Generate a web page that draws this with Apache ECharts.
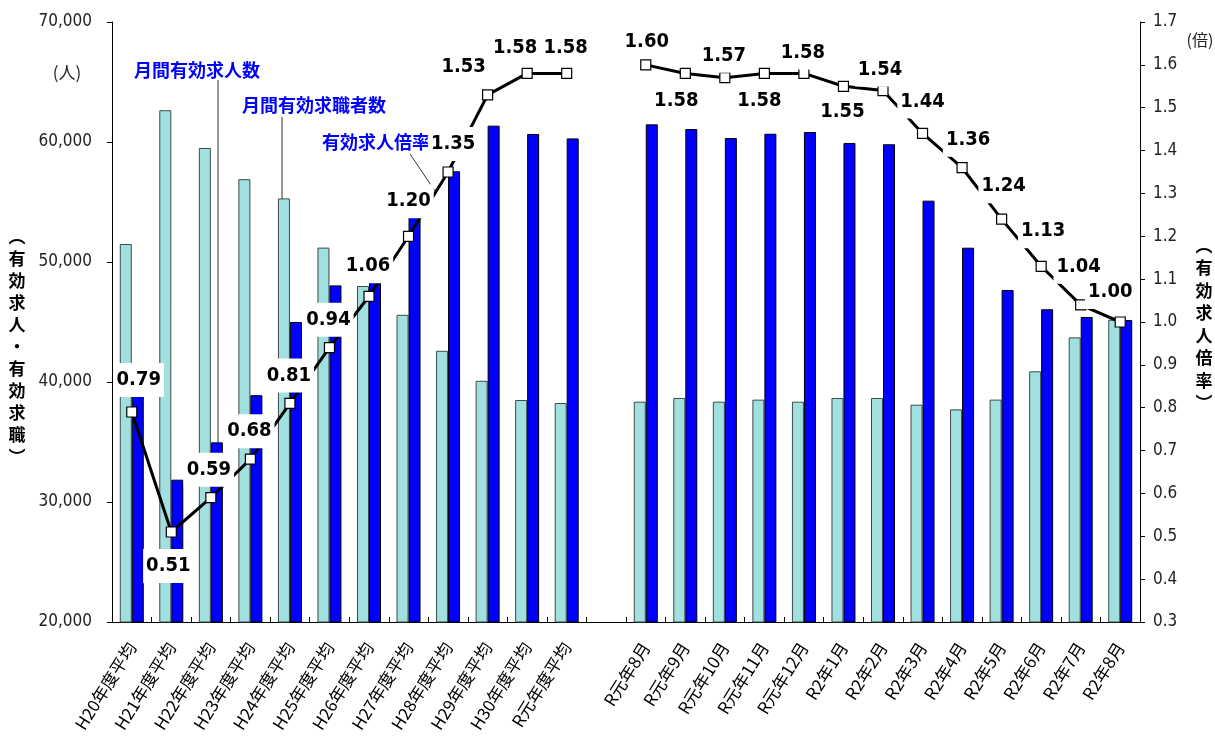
<!DOCTYPE html>
<html><head><meta charset="utf-8">
<script src="https://cdn.jsdelivr.net/npm/echarts@6/dist/echarts.min.js"></script>
<style>html,body{margin:0;padding:0;background:#fff}#c{width:1215px;height:744px}</style>
</head><body><div id="c"></div>
<script>
// ---- data ----
const categories = ['H20年度平均','H21年度平均','H22年度平均','H23年度平均','H24年度平均','H25年度平均',
  'H26年度平均','H27年度平均','H28年度平均','H29年度平均','H30年度平均','R元年度平均','',
  'R元年8月','R元年9月','R元年10月','R元年11月','R元年12月','R2年1月','R2年2月','R2年3月',
  'R2年4月','R2年5月','R2年6月','R2年7月','R2年8月'];
// 月間有効求職者数 (light teal bars)
const jobSeekers = [51500,62650,59500,56900,55300,51200,48000,45600,42600,40100,38500,38250,null,
  38360,38670,38360,38530,38360,38670,38670,38110,37720,38530,40890,43720,45190];
// 月間有効求人数 (blue bars)
const jobOffers = [40700,31860,34970,38900,45000,48050,50900,54700,57560,61360,60670,60300,null,
  61470,61080,60330,60690,60830,59920,59810,55110,51190,47670,46060,45420,45170];
// 有効求人倍率 (line)
const ratio = [0.79,0.51,0.59,0.68,0.81,0.94,1.06,1.20,1.35,1.53,1.58,1.58,null,
  1.60,1.58,1.57,1.58,1.58,1.55,1.54,1.44,1.36,1.24,1.13,1.04,1.00];
const leftTicks = {min:20000, max:70000, interval:10000};
const rightTicks = {min:0.3, max:1.7, interval:0.1};

// ---- label placement (style only) ----
const labelOffsets = [[7,-32],[-3,34],[-2,-28],[-1,-28],[-1,-28],[-1,-28],[-1,-30],[0,-35],[5,-28],
  [-24,-28],[-12,-26],[-1,-26],[0,0],
  [1,-23],[-9,27],[-1,-22],[-5,27],[-1,-21],[-1,26],[-3,-21],[0,-32],[6,-28],[2,-33],[2,-35],[-2,-38],[-10,-30]];

const lineData = ratio.map((v,i)=> v==null ? null : {value:v, label:{offset:labelOffsets[i]}});
const fmtThousand = v => String(v).replace(/\B(?=(\d{3})+(?!\d))/g, ',');
const CJK = '"Noto Sans CJK JP", sans-serif';
const NUM = '"Liberation Sans Narrow", "DejaVu Sans Condensed", sans-serif';

const chart = echarts.init(document.getElementById('c'));
chart.setOption({
  animation:false,
  backgroundColor:'#fff',
  grid:{left:112, right:75, top:22, bottom:122},
  xAxis:{
    type:'category', data:categories, boundaryGap:true,
    axisLine:{lineStyle:{color:'#000', width:1}},
    axisTick:{show:true, inside:true, length:5, alignWithLabel:false, interval:0, lineStyle:{color:'#000'}},
    axisLabel:{interval:0, rotate:58, margin:22, fontSize:17, color:'#000', fontFamily:CJK}
  },
  yAxis:[{
    type:'value', min:leftTicks.min, max:leftTicks.max, interval:leftTicks.interval,
    splitLine:{show:false},
    axisLine:{show:true, lineStyle:{color:'#000'}},
    axisTick:{show:true, inside:false, length:5, lineStyle:{color:'#000'}},
    axisLabel:{margin:20, fontSize:17, color:'#222', fontFamily:NUM, formatter:fmtThousand}
  },{
    type:'value', min:rightTicks.min, max:rightTicks.max, interval:rightTicks.interval, position:'right',
    splitLine:{show:false},
    axisLine:{show:true, lineStyle:{color:'#000'}},
    axisTick:{show:true, inside:false, length:5, lineStyle:{color:'#000'}},
    axisLabel:{margin:13, fontSize:17, color:'#222', fontFamily:NUM, formatter:v=>v.toFixed(1)}
  }],
  series:[{
    name:'月間有効求職者数', type:'bar', data:jobSeekers, barWidth:12, barGap:'0%', z:2,
    itemStyle:{color:'#A2E0E0', borderColor:'#3a4a4a', borderWidth:1}
  },{
    name:'月間有効求人数', type:'bar', data:jobOffers, barWidth:12, barGap:'0%', z:2,
    itemStyle:{color:'#0000FF', borderColor:'#000', borderWidth:1}
  },{
    name:'有効求人倍率', type:'line', yAxisIndex:1, data:lineData, connectNulls:false, z:5,
    symbol:'rect', symbolSize:10,
    lineStyle:{color:'#000', width:3},
    itemStyle:{color:'#fff', borderColor:'#000', borderWidth:1.2},
    label:{show:true, position:'inside', formatter:p=>Number(p.value).toFixed(2),
      fontSize:20, fontWeight:'bold', fontFamily:NUM, color:'#000',
      backgroundColor:'#fff', padding:[7,3]}
  }],
  graphic:[
    {type:'text', x:67, y:73, style:{text:'(人)', fontSize:17, fontFamily:CJK, fill:'#222', textAlign:'center', textVerticalAlign:'middle'}},
    {type:'text', x:1200, y:40, style:{text:'(倍)', fontSize:16, fontFamily:CJK, fill:'#222', textAlign:'center', textVerticalAlign:'middle'}},
    {type:'text', x:17, y:226, style:{text:'︵\n有\n効\n求\n人\n・\n有\n効\n求\n職\n︶', fontSize:17, fontWeight:'bold', lineHeight:22, fontFamily:CJK, fill:'#000', textAlign:'center', textVerticalAlign:'top'}},
    {type:'text', x:1204, y:234, style:{text:'︵\n有\n効\n求\n人\n倍\n率\n︶', fontSize:17, fontWeight:'bold', lineHeight:22.5, fontFamily:CJK, fill:'#000', textAlign:'center', textVerticalAlign:'top'}},
    {type:'text', x:197, y:70, style:{text:'月間有効求人数', fontSize:18, fontWeight:'bold', fontFamily:CJK, fill:'#0000FF', textAlign:'center', textVerticalAlign:'middle'}},
    {type:'text', x:314, y:105, style:{text:'月間有効求職者数', fontSize:18, fontWeight:'bold', fontFamily:CJK, fill:'#0000FF', textAlign:'center', textVerticalAlign:'middle'}},
    {type:'text', x:376, y:142, style:{text:'有効求人倍率', fontSize:18, fontWeight:'bold', fontFamily:CJK, fill:'#0000FF', textAlign:'center', textVerticalAlign:'middle'}},
    {type:'line', shape:{x1:218, y1:80, x2:218, y2:443}, style:{stroke:'#333', lineWidth:1}},
    {type:'line', shape:{x1:282, y1:117, x2:282, y2:199}, style:{stroke:'#333', lineWidth:1}},
    {type:'line', shape:{x1:410, y1:154, x2:435, y2:191}, style:{stroke:'#333', lineWidth:1}}
  ]
});
</script></body></html>
